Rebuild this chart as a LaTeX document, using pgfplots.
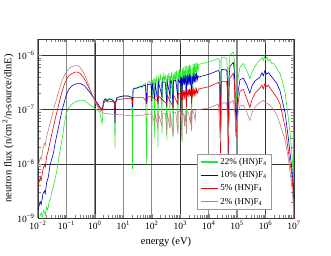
\documentclass[border=0pt]{standalone}
\usepackage{pgfplots}
\pgfplotsset{compat=1.18}
\usepackage{fontspec}
\setmainfont{Liberation Serif}
\definecolor{lineG}{RGB}{40,230,40}
\definecolor{lineB}{RGB}{0,0,205}
\definecolor{lineR}{RGB}{235,0,0}
\definecolor{lineP}{RGB}{190,130,130}
\begin{document}
\begin{tikzpicture}
\path[use as bounding box] (-38pt,-38pt) rectangle (293pt,218pt);
\begin{axis}[
  at={(0pt,0pt)}, anchor=south west,
  scale only axis, width=256pt, height=179pt,
  xmode=log, ymode=log,
  xmin=1e-2, xmax=1e7, ymin=1e-9, ymax=2e-6,
  xtick={1e-2,1e-1,1,10,100,1e3,1e4,1e5,1e6,1e7},
  xticklabels={10\textsuperscript{−2},10\textsuperscript{−1},10\textsuperscript{0},10\textsuperscript{1},10\textsuperscript{2},10\textsuperscript{3},10\textsuperscript{4},10\textsuperscript{5},10\textsuperscript{6},10\textsuperscript{7}},
  minor xtick={2e-2,3e-2,4e-2,5e-2,6e-2,7e-2,8e-2,9e-2,
    2e-1,3e-1,4e-1,5e-1,6e-1,7e-1,8e-1,9e-1,
    2,3,4,5,6,7,8,9,20,30,40,50,60,70,80,90,
    200,300,400,500,600,700,800,900,
    2e3,3e3,4e3,5e3,6e3,7e3,8e3,9e3,
    2e4,3e4,4e4,5e4,6e4,7e4,8e4,9e4,
    2e5,3e5,4e5,5e5,6e5,7e5,8e5,9e5,
    2e6,3e6,4e6,5e6,6e6,7e6,8e6,9e6},
  ytick={1e-9,1e-8,1e-7,1e-6},
  yticklabels={10\textsuperscript{−9},10\textsuperscript{−8},10\textsuperscript{−7},10\textsuperscript{−6}},
  minor ytick={2e-9,3e-9,4e-9,5e-9,6e-9,7e-9,8e-9,9e-9,
    2e-8,3e-8,4e-8,5e-8,6e-8,7e-8,8e-8,9e-8,
    2e-7,3e-7,4e-7,5e-7,6e-7,7e-7,8e-7,9e-7,2e-6},
  xmajorgrids, ymajorgrids=false,
  major grid style={black!45, line width=1.3pt},
  extra x ticks={1,1e3,1e6}, extra x tick labels={},
  extra x tick style={grid=major, major grid style={black!80, line width=0.4pt}},
  extra y ticks={1e-8,1e-7,1e-6}, extra y tick labels={},
  extra y tick style={grid=major, major grid style={black!80, line width=0.4pt}},
  axis line style={black!80},
  tick label style={font=\fontsize{9.5}{10}\selectfont},
  label style={font=\fontsize{10.5}{12}\selectfont},
  xlabel={energy (eV)},
  ylabel={neutron flux (n/cm\textsuperscript{2}/n-source/dlnE)},
  ylabel style={yshift=-3pt},
  legend style={at={(0.621,0.358)}, anchor=north west, draw=black!40, fill=white,
    font=\fontsize{9}{10}\selectfont, row sep=1.5pt},
  legend cell align=left,
  legend image post style={line width=1.2pt},
  every axis plot/.append style={line width=0.6pt},
]
\addplot[color=lineG] coordinates {
(0.0115,1.07e-9) (0.013,1.26e-9) (0.014,1.02e-9) (0.016,1.41e-9) (0.018,1.12e-9)
(0.02,1.58e-9) (0.022,1.41e-9) (0.025,2.09e-9) (0.028,2.24e-9) (0.03,3.02e-9)
(0.034,3.63e-9) (0.04,5.25e-9) (0.045,7.08e-9) (0.05,1.0e-8) (0.06,1.78e-8)
(0.07,2.82e-8) (0.076,3.63e-8) (0.085,5.62e-8) (0.1,8.71e-8) (0.12,1.07e-7)
(0.15,1.23e-7) (0.2,1.38e-7) (0.3,1.48e-7) (0.4,1.48e-7) (0.5,1.38e-7)
(0.7,1.20e-7) (1.0,1.05e-7) (1.3,9.55e-8) (1.5,8.91e-8) (1.7,6.31e-8)
(1.8,5.5e-8) (1.9,7.94e-8) (2.0,1.26e-7) (2.2,1.51e-7) (2.6,1.58e-7)
(3.0,1.48e-7) (3.5,1.58e-7) (4.2,1.51e-7) (4.8,1.45e-7) (5.1,2.0e-8)
(5.4,1.41e-7) (6,1.66e-7) (8,1.74e-7) (10,1.78e-7) (13,1.78e-7)
(17,1.74e-7) (20,1.66e-7) (21,7.94e-9) (22,2.4e-7) (26,2.51e-7)
(30,2.4e-7) (34,2.63e-7) (40,2.75e-7) (45,2.51e-7) (50,2.88e-7)
(60,3.02e-7) (66,1.0e-8) (70,3.16e-7) (80,3.31e-7) (90,3.02e-7)
(95,3.16e-7) (100,2.34e-8) (105,3.47e-7) (112,2.82e-7) (120,3.80e-7)
(126,3.02e-8) (132,3.55e-7) (141,3.02e-7) (150,3.98e-7) (158,3.16e-7)
(166,2.0e-8) (172,3.80e-7) (185,3.16e-7) (200,4.27e-7) (214,3.39e-7)
(229,3.63e-8) (235,3.98e-7) (250,3.31e-7) (265,4.47e-7) (280,3.47e-7)
(300,4.17e-7) (320,3.39e-7) (339,2.69e-8) (350,4.37e-7) (375,3.47e-7)
(400,4.79e-7) (420,3.55e-7) (437,4.68e-8) (450,4.17e-7) (475,3.39e-7)
(500,5.01e-7) (530,3.55e-7) (562,3.16e-8) (580,4.47e-7) (615,3.31e-7)
(650,5.01e-7) (690,3.16e-7) (730,5.25e-7) (780,3.47e-7) (832,4.68e-8)
(850,5.25e-7) (900,3.55e-7) (950,5.5e-7) (1000,3.31e-7) (1060,5.62e-7)
(1120,3.16e-7) (1150,2.51e-8) (1190,5.75e-7) (1260,3.31e-7) (1330,6.03e-7)
(1410,3.39e-7) (1500,6.31e-7) (1590,3.47e-7) (1660,4.68e-8) (1700,6.31e-7)
(1780,3.55e-7) (1890,6.46e-7) (2000,3.63e-7) (2120,6.61e-7) (2240,3.72e-7)
(2370,6.76e-7) (2510,6.31e-8) (2660,3.80e-7) (2820,6.92e-7) (2990,3.80e-7)
(3160,7.08e-7) (3350,3.98e-7) (3550,7.24e-7) (3760,4.17e-7) (3980,7.41e-7)
(4220,5.01e-7) (4500,6.76e-7) (6000,7.08e-7) (1e4,7.59e-7) (1.5e4,8.13e-7)
(2.2e4,8.71e-7) (2.45e4,7.94e-7) (2.6e4,1.66e-8) (2.75e4,7.94e-7) (2.9e4,9.33e-7)
(3.5e4,9.12e-7) (4.3e4,8.71e-7) (4.6e4,5.01e-7) (4.9e4,1.66e-8) (5.2e4,6.31e-7)
(5.6e4,1.0e-6) (6.5e4,1.10e-6) (7.4e4,1.15e-6) (8.0e4,7.94e-7) (8.5e4,3.16e-7)
(9.1e4,1.29e-7) (9.7e4,2.0e-7) (1.1e5,3.98e-7) (1.26e5,6.03e-7) (1.66e5,7.08e-7)
(2.2e5,5.25e-7) (2.8e5,3.72e-7) (3.4e5,5.01e-7) (4.3e5,6.31e-7) (5.5e5,7.59e-7)
(6.4e5,8.13e-7) (7.5e5,9.12e-7) (8.3e5,7.94e-7) (9.0e5,9.55e-7) (1.0e6,8.32e-7)
(1.1e6,9.33e-7) (1.26e6,7.94e-7) (1.45e6,8.32e-7) (1.66e6,7.08e-7) (1.9e6,7.24e-7)
(2.5e6,5.62e-7) (3.2e6,4.68e-7) (4.0e6,3.16e-7) (4.9e6,2.0e-7) (6.3e6,7.08e-8)
(7.5e6,3.16e-8) (8.3e6,1.74e-8) (9.5e6,6.31e-9) (1.05e7,2.51e-9)
};
\addlegendentry{22\% (HN)F\textsubscript{4}}
\addplot[color=lineB] coordinates {
(0.01,1.41e-9) (0.012,2.0e-9) (0.013,1.78e-9) (0.015,2.82e-9) (0.017,3.16e-9)
(0.018,2.82e-9) (0.02,4.47e-9) (0.023,5.62e-9) (0.026,8.91e-9) (0.03,1.20e-8)
(0.035,1.58e-8) (0.04,2.4e-8) (0.05,4.17e-8) (0.06,6.61e-8) (0.07,9.55e-8)
(0.085,1.41e-7) (0.1,1.91e-7) (0.12,2.34e-7) (0.15,2.69e-7) (0.2,2.95e-7)
(0.3,3.02e-7) (0.4,2.82e-7) (0.5,2.51e-7) (0.7,2.0e-7) (1.0,1.51e-7)
(1.3,1.26e-7) (1.5,1.10e-7) (1.8,1.0e-7) (1.9,1.12e-7) (2.0,1.41e-7)
(2.3,1.58e-7) (2.7,1.45e-7) (3.2,1.58e-7) (4.0,1.51e-7) (4.8,1.38e-7)
(5.1,5.62e-8) (5.4,1.41e-7) (6,1.66e-7) (10,1.78e-7) (15,1.78e-7)
(20,1.66e-7) (21,1.12e-7) (22,2.4e-7) (30,2.51e-7) (40,2.63e-7)
(60,2.82e-7) (66,1.26e-7) (70,2.88e-7) (95,2.95e-7) (100,1.41e-7)
(105,3.02e-7) (126,1.58e-7) (132,3.09e-7) (166,1.26e-7) (172,3.16e-7)
(229,1.78e-7) (235,3.24e-7) (300,3.16e-7) (339,1.12e-7) (350,3.24e-7)
(437,1.78e-7) (450,3.31e-7) (500,3.39e-7) (562,1.0e-7) (580,3.39e-7)
(700,3.47e-7) (832,1.58e-7) (850,3.55e-7) (950,3.16e-7) (1000,3.80e-7)
(1060,3.02e-7) (1120,3.98e-7) (1150,7.94e-8) (1190,3.80e-7) (1260,2.82e-7)
(1330,4.17e-7) (1410,2.88e-7) (1500,4.27e-7) (1590,2.82e-7) (1660,1.12e-7)
(1700,4.17e-7) (1780,2.75e-7) (1890,4.37e-7) (2000,2.88e-7) (2120,4.47e-7)
(2240,2.82e-7) (2370,4.47e-7) (2510,1.41e-7) (2660,4.17e-7) (2820,3.02e-7)
(2990,4.57e-7) (3160,3.16e-7) (3350,4.57e-7) (3550,3.16e-7) (3760,4.68e-7)
(3980,3.55e-7) (4220,4.17e-7) (4500,3.98e-7) (1e4,4.47e-7) (2.2e4,5.25e-7)
(2.45e4,4.79e-7) (2.6e4,1.58e-8) (2.75e4,5.01e-7) (2.9e4,5.5e-7) (4.3e4,5.37e-7)
(4.6e4,3.16e-7) (4.9e4,1.26e-8) (5.2e4,3.98e-7) (5.6e4,6.31e-7) (7.4e4,7.41e-7)
(8.0e4,5.01e-7) (8.5e4,1.58e-7) (9.1e4,5.5e-8) (9.7e4,1.0e-7) (1.1e5,2.24e-7)
(1.26e5,3.55e-7) (1.66e5,3.8e-7) (2.2e5,2.82e-7) (2.8e5,2.0e-7) (3.4e5,2.82e-7)
(4.3e5,3.39e-7) (6.4e5,3.98e-7) (7.5e5,4.79e-7) (8.3e5,4.17e-7) (9.5e5,5.25e-7)
(1.1e6,4.47e-7) (1.26e6,4.79e-7) (1.66e6,3.98e-7) (2.5e6,3.02e-7) (3.2e6,2.24e-7)
(4.9e6,8.51e-8) (6.3e6,3.02e-8) (8.3e6,8.51e-9) (9.5e6,3.98e-9) (1.05e7,1.58e-9)
};
\addlegendentry{10\% (HN)F\textsubscript{4}}
\addplot[color=lineR] coordinates {
(0.01,3.8e-9) (0.012,5.62e-9) (0.013,5.01e-9) (0.015,7.94e-9) (0.017,9.55e-9)
(0.018,8.71e-9) (0.02,1.32e-8) (0.023,1.78e-8) (0.026,2.4e-8) (0.03,3.39e-8)
(0.035,4.79e-8) (0.04,6.61e-8) (0.05,1.07e-7) (0.06,1.58e-7) (0.07,2.14e-7)
(0.085,2.95e-7) (0.1,3.55e-7) (0.12,4.17e-7) (0.15,4.57e-7) (0.2,4.9e-7)
(0.25,4.9e-7) (0.3,4.68e-7) (0.4,3.89e-7) (0.5,3.16e-7) (0.7,2.19e-7)
(1.0,1.48e-7) (1.3,1.17e-7) (1.5,1.05e-7) (1.8,9.55e-8) (2.0,1.26e-7)
(2.3,1.45e-7) (3,1.38e-7) (4,1.41e-7) (4.8,1.35e-7) (5.1,8.91e-8)
(5.4,1.35e-7) (6,1.51e-7) (10,1.58e-7) (20,1.58e-7) (21,1.35e-7)
(22,1.66e-7) (50,1.66e-7) (66,1.41e-7) (70,1.70e-7) (100,1.74e-7)
(166,1.41e-7) (172,1.78e-7) (339,1.26e-7) (350,1.82e-7) (562,1.12e-7)
(580,1.86e-7) (832,1.26e-7) (850,1.91e-7) (1000,2.0e-7) (1060,1.66e-7)
(1120,2.19e-7) (1150,1.0e-7) (1190,2.09e-7) (1260,1.66e-7) (1330,2.29e-7)
(1410,1.70e-7) (1500,2.34e-7) (1590,1.70e-7) (1660,1.12e-7) (1700,2.34e-7)
(1780,1.74e-7) (1890,2.40e-7) (2000,1.74e-7) (2120,2.40e-7) (2240,1.78e-7)
(2370,2.40e-7) (2510,1.26e-7) (2660,2.40e-7) (2820,1.82e-7) (2990,2.40e-7)
(3160,1.86e-7) (3350,2.40e-7) (3550,1.91e-7) (3760,2.40e-7) (3980,2.0e-7)
(4500,2.4e-7) (1e4,2.63e-7) (2.2e4,3.16e-7) (2.45e4,2.82e-7) (2.6e4,1.58e-8)
(2.75e4,3.02e-7) (2.9e4,3.31e-7) (4.3e4,3.31e-7) (4.6e4,2.0e-7) (4.9e4,1.26e-8)
(5.2e4,2.51e-7) (5.6e4,3.8e-7) (7.4e4,4.68e-7) (8.0e4,3.16e-7) (8.5e4,1.0e-7)
(9.1e4,3.16e-8) (9.7e4,6.31e-8) (1.1e5,1.41e-7) (1.26e5,2.19e-7) (1.66e5,2.34e-7)
(2.2e5,1.58e-7) (2.8e5,1.10e-7) (3.4e5,1.58e-7) (4.3e5,2.0e-7) (6.4e5,2.51e-7)
(7.5e5,2.82e-7) (8.3e5,2.4e-7) (9.5e5,3.02e-7) (1.1e6,2.63e-7) (1.26e6,2.82e-7)
(1.66e6,2.24e-7) (2.5e6,1.66e-7) (3.2e6,1.29e-7) (4.9e6,4.68e-8) (6.3e6,1.74e-8)
(8.3e6,6.46e-9) (9.5e6,2.82e-9) (1.05e7,1.0e-9)
};
\addlegendentry{5\% (HN)F\textsubscript{4}}
\addplot[color=lineP] coordinates {
(0.01,8.51e-9) (0.012,1.32e-8) (0.013,1.20e-8) (0.015,1.91e-8) (0.017,2.4e-8)
(0.018,2.19e-8) (0.02,3.16e-8) (0.023,4.17e-8) (0.026,5.25e-8) (0.03,7.08e-8)
(0.035,1.0e-7) (0.04,1.26e-7) (0.05,1.91e-7) (0.06,2.63e-7) (0.07,3.39e-7)
(0.085,4.27e-7) (0.1,4.9e-7) (0.12,5.62e-7) (0.15,6.17e-7) (0.2,6.46e-7)
(0.25,6.46e-7) (0.3,6.03e-7) (0.4,4.79e-7) (0.5,3.72e-7) (0.7,2.29e-7)
(1.0,1.41e-7) (1.3,1.07e-7) (1.5,9.55e-8) (2.0,8.51e-8) (3,8.32e-8)
(5,8.13e-8) (5.1,6.31e-8) (5.3,8.13e-8) (10,7.94e-8) (22,7.59e-8)
(50,7.94e-8) (100,8.32e-8) (126,5.62e-8) (132,8.32e-8) (166,4.47e-8)
(172,8.32e-8) (229,5.01e-8) (235,8.51e-8) (300,8.51e-8) (339,3.55e-8)
(350,8.71e-8) (437,4.47e-8) (450,8.71e-8) (562,3.16e-8) (580,8.91e-8)
(700,8.91e-8) (832,3.55e-8) (850,9.12e-8) (1000,9.12e-8) (1060,7.94e-8)
(1150,2.82e-8) (1190,9.33e-8) (1330,7.94e-8) (1410,5.01e-8) (1500,9.33e-8)
(1660,3.55e-8) (1700,9.55e-8) (2000,8.32e-8) (2240,5.62e-8) (2370,9.55e-8)
(2510,3.98e-8) (2660,9.77e-8) (3000,8.71e-8) (3350,6.31e-8) (3550,1.0e-7)
(4500,1.0e-7) (1e4,1.07e-7) (2.2e4,1.26e-7) (2.6e4,2.51e-8) (2.9e4,1.32e-7)
(4.3e4,1.32e-7) (4.9e4,3.16e-8) (5.6e4,1.32e-7) (7.4e4,1.48e-7) (8.5e4,7.94e-8)
(9.1e4,4.68e-8) (1.1e5,8.91e-8) (1.26e5,1.17e-7) (1.66e5,1.20e-7) (2.2e5,8.91e-8)
(2.8e5,6.31e-8) (3.4e5,8.91e-8) (4.3e5,1.12e-7) (6.4e5,1.35e-7) (8.3e5,1.48e-7)
(9.5e5,1.38e-7) (1.26e6,1.26e-7) (1.66e6,1.10e-7) (2.5e6,7.94e-8) (3.2e6,5.5e-8)
(4.9e6,2.69e-8) (6.3e6,1.26e-8) (8.3e6,3.98e-9) (9.5e6,1.78e-9) (1.05e7,7.94e-10)
};
\addlegendentry{2\% (HN)F\textsubscript{4}}
\end{axis}
\end{tikzpicture}
\end{document}
